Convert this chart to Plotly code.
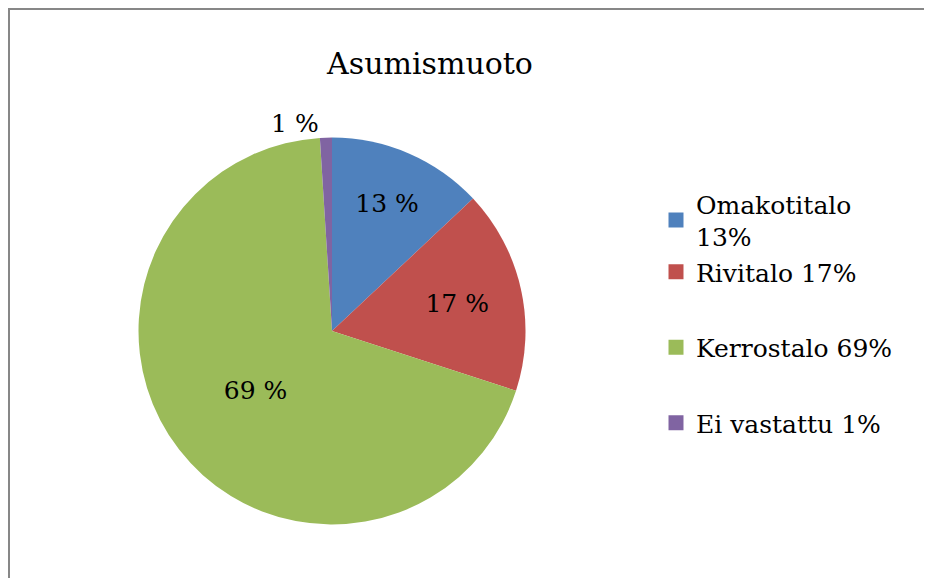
import plotly.graph_objects as go

title = "Asumismuoto"
categories = ["Omakotitalo", "Rivitalo", "Kerrostalo", "Ei vastattu"]
values = [13, 17, 69, 1]
legend_labels = ["Omakotitalo<br>13%", "Rivitalo 17%", "Kerrostalo 69%", "Ei vastattu 1%"]
colors = ["#4F81BD", "#C0504D", "#9BBB59", "#8064A2"]
legend_groups = ["g1", "g1", "g2", "g3"]

W, H = 932, 578
FONT = "DejaVu Serif"

cx, cy, r = 324, 323, 193.5

fig = go.Figure()
fig.add_trace(go.Pie(
    labels=categories,
    values=values,
    sort=False,
    direction="clockwise",
    rotation=0,
    marker=dict(colors=colors, line=dict(width=0)),
    texttemplate="%{value} %",
    textposition=["inside", "inside", "inside", "outside"],
    insidetextorientation="horizontal",
    textfont=dict(family=FONT, size=25, color="black"),
    showlegend=False,
    hoverinfo="label+percent",
    domain=dict(x=[(cx - r) / W, (cx + r) / W], y=[(H - cy - r) / H, (H - cy + r) / H]),
))

for lab, col, grp in zip(legend_labels, colors, legend_groups):
    fig.add_trace(go.Scatter(
        x=[None], y=[None], mode="markers", name=lab,
        legendgroup=grp,
        marker=dict(symbol="square", size=15, color=col),
    ))

fig.update_layout(
    width=W, height=H,
    margin=dict(l=0, r=0, t=0, b=0),
    paper_bgcolor="white",
    plot_bgcolor="white",
    xaxis=dict(visible=False),
    yaxis=dict(visible=False),
    font=dict(family=FONT, color="black"),
    title=dict(text=title, x=422 / W, xanchor="center", y=1 - 55 / H, yanchor="middle",
               font=dict(family=FONT, size=30, color="black")),
    legend=dict(
        x=648 / W, xanchor="left", y=1 - 173 / H, yanchor="top",
        font=dict(family=FONT, size=25, color="black"),
        tracegroupgap=40,
        itemwidth=30,
        bgcolor="rgba(0,0,0,0)",
    ),
    shapes=[dict(type="rect", xref="paper", yref="paper",
                 x0=1 / W, x1=1.05, y0=-0.05, y1=1 - 1 / H,
                 line=dict(color="#878787", width=2))],
)

fig.write_html("out.html")
